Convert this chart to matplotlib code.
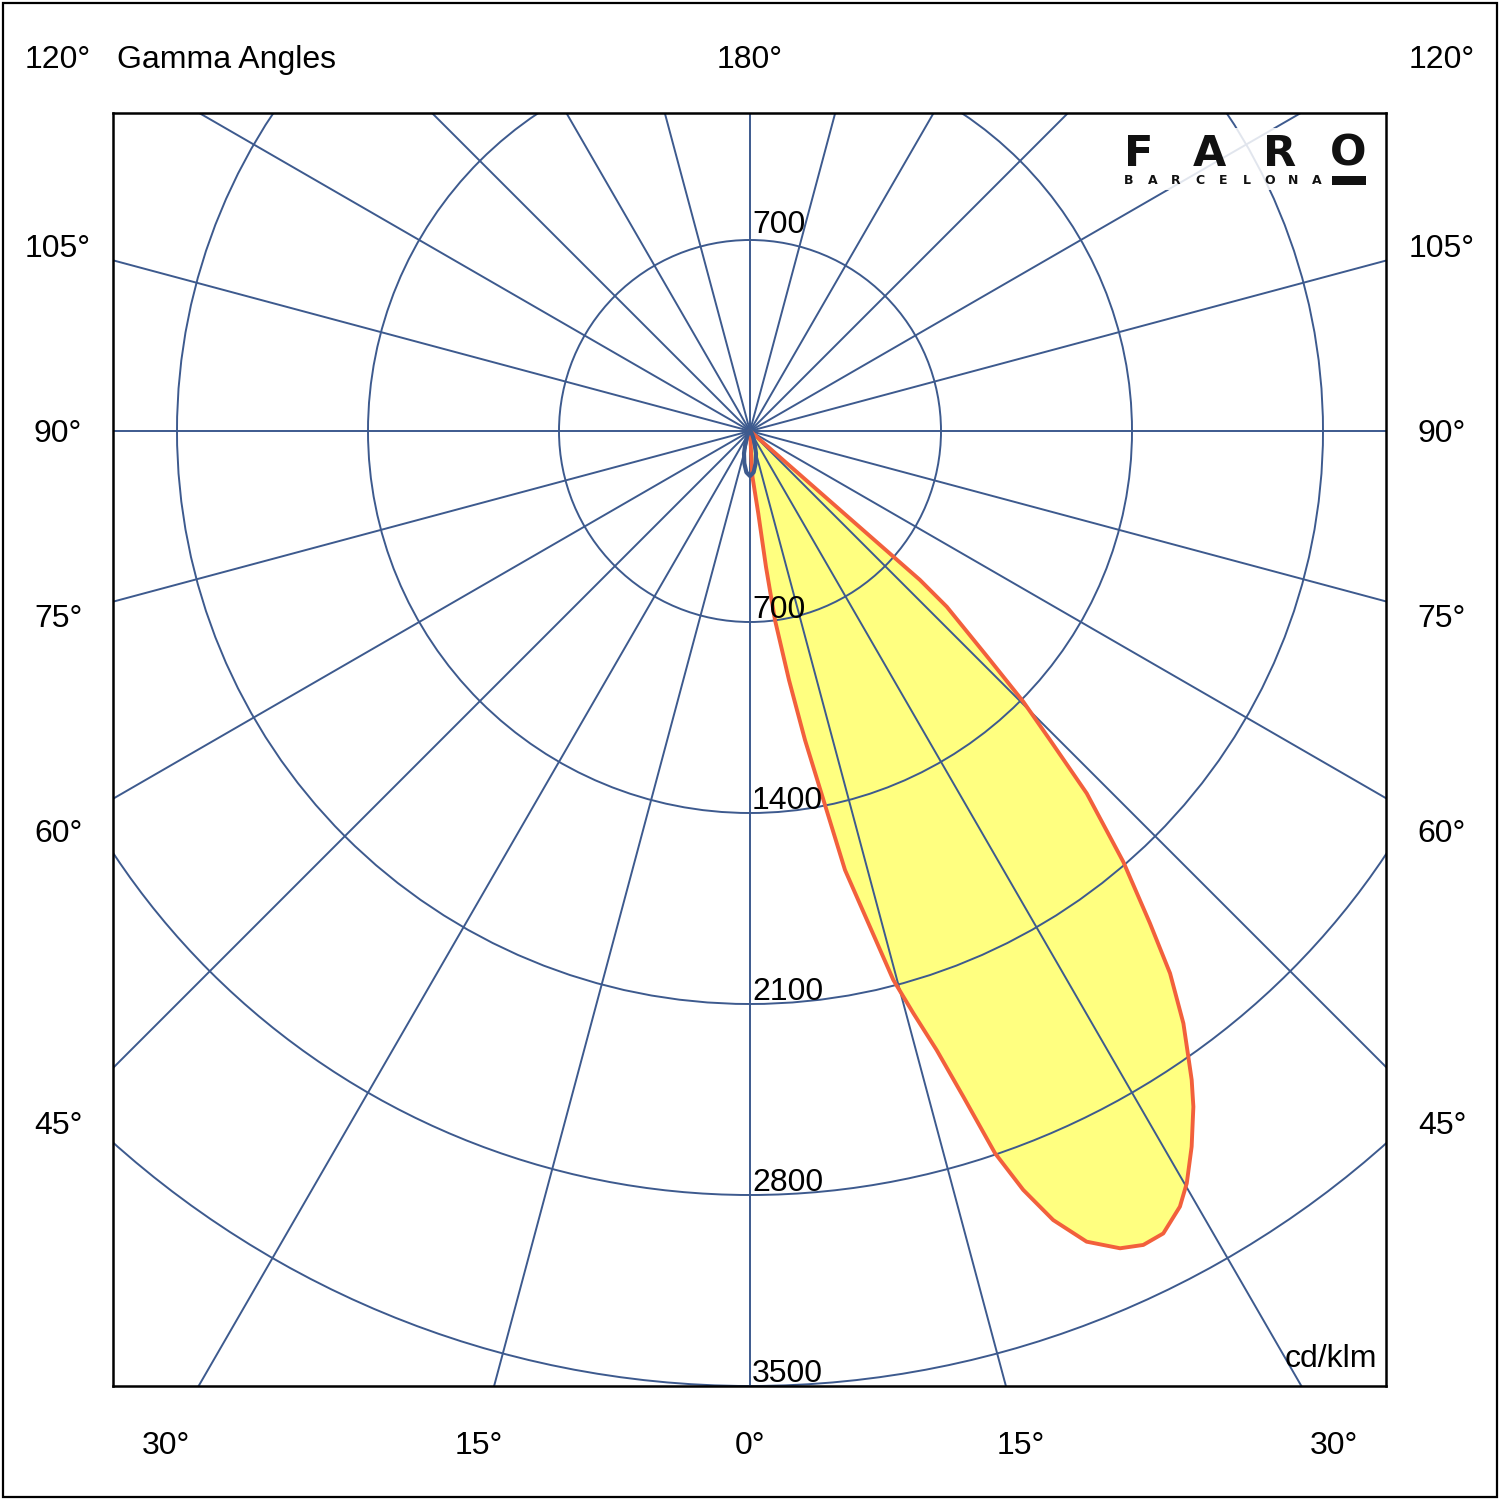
import numpy as np
import matplotlib.pyplot as plt
from matplotlib.patches import Rectangle, Circle

# gamma angle in degrees (0 = straight down, + = right side), intensity in cd/klm
gamma_c0 = [0, 2.96, 3.11, 5.74, 6.71, 7.53, 8.90, 10.09, 11.34, 12.21,
            14.63, 15.67, 16.78, 17.77, 18.74, 19.80, 21.02, 22.55, 24.36, 25.79,
            27.25, 29.00, 30.14, 31.68, 33.27, 34.24, 35.01, 36.19, 37.76, 39.09,
            40.91, 42.90, 44.16, 45.27, 46.34, 48.23, 48.77, 49.3]
cd_c0 = [0, 106, 169, 304, 502, 699, 924, 1150, 1398, 1646,
         2079, 2216, 2370, 2562, 2795, 2956, 3098, 3217, 3288, 3313,
         3308, 3250, 3188, 3082, 2962, 2877, 2800, 2690, 2514, 2325,
         2089, 1813, 1578, 1410, 1216, 967, 828, 0]

gamma_c90 = [-60, -50, -40, -30, -25, -20, -15, -10, -5, 0, 5, 10, 15, 20, 25, 30, 40, 50, 60]
cd_c90 = [0, 3, 8, 18, 30, 50, 85, 120, 152, 165, 152, 120, 85, 50, 30, 18, 8, 3, 0]

rings = [700, 1400, 2100, 2800, 3500]
spoke_angles = list(range(0, 360, 15))
side_angles = [120, 105, 90, 75, 60, 45]
bottom_angles = [-30, -15, 0, 15, 30]

grid_col = "#3d5a8e"
edge_col = "#f2603c"
fill_col = "#ffff80"
font = ["Liberation Sans", "DejaVu Sans"]

# pixel layout of the reference (1500 px figure)
cx, cy = 750, 431          # pole position in pixels
k = 955 / 3500             # pixels per cd/klm
W = 1500


def polar_xy(g, r):
    g = np.radians(np.asarray(g, dtype=float))
    r = np.asarray(r, dtype=float)
    return r * np.sin(g), -r * np.cos(g)


fig = plt.figure(figsize=(15, 15), dpi=100)
ax = fig.add_axes([113 / W, (W - 1386) / W, 1273 / W, 1273 / W])
ax.set_xlim((113 - cx) / k, (1386 - cx) / k)
ax.set_ylim(-(1386 - cy) / k, (cy - 113) / k)
ax.set_aspect("equal")
ax.set_xticks([])
ax.set_yticks([])
for s in ax.spines.values():
    s.set_linewidth(1.8)
    s.set_color("black")

# lobe fill under the grid
x0, y0 = polar_xy(gamma_c0, cd_c0)
ax.fill(x0, y0, color=fill_col, lw=0, zorder=1)

# grid
for r in rings:
    ax.add_patch(Circle((0, 0), r, fill=False, ec=grid_col, lw=1.4, zorder=2))
for a in spoke_angles:
    sx, sy = polar_xy(a, 6000)
    ax.plot([0, sx], [0, sy], color=grid_col, lw=1.4, zorder=2)

# curves
ax.plot(x0, y0, color=edge_col, lw=2.8, zorder=3, solid_joinstyle="round")
x1, y1 = polar_xy(gamma_c90, cd_c90)
ax.plot(x1, y1, color=grid_col, lw=3.0, zorder=4, solid_joinstyle="round")

# ring values
for r in rings:
    ax.text(7, -r + 15, str(r), fontsize=23, family=font, ha="left", va="baseline", zorder=5)
ax.text(7, rings[0] + 25, str(rings[0]), fontsize=23, family=font, ha="left", va="baseline", zorder=5)

ax.text((1377 - cx) / k, -(1367 - cy) / k, "cd/klm", fontsize=23, family=font,
        ha="right", va="baseline", zorder=5)

# angle labels round the frame
top_y = (cy - 60) / k
side_dx = 692 / k
shift = 3 / k
for g in side_angles:
    if g == 120:
        yy = top_y
    else:
        yy = -side_dx * np.cos(np.radians(g)) / np.sin(np.radians(g)) - shift
    for sgn in (-1, 1):
        ax.text(sgn * side_dx, yy, f"{g}°", fontsize=23, family=font,
                ha="center", va="center", clip_on=False)
bot_dy = (1443 - cy) / k
for g in bottom_angles:
    ax.text(bot_dy * np.tan(np.radians(g)), -bot_dy - shift, f"{abs(g)}°", fontsize=23,
            family=font, ha="center", va="center", clip_on=False)
ax.text(0, top_y, "180°", fontsize=23, family=font, ha="center", va="center", clip_on=False)
ax.text((117 - cx) / k, top_y, "Gamma Angles", fontsize=23, family=font,
        ha="left", va="center", clip_on=False)


# FARO logo
def fx(px):
    return px / W


def fy(py):
    return 1 - py / W


fig.patches.append(Rectangle((fx(1118), fy(190)), 258 / W, 62 / W, transform=fig.transFigure,
                             fc="white", ec="none", alpha=0.85, zorder=6))
for ch, px in zip("FARO", [1139, 1209, 1280, 1348]):
    fig.text(fx(px), fy(154), ch, fontsize=31, family="DejaVu Sans", weight="bold",
             ha="center", va="center", color="#111111", zorder=7)
for i, ch in enumerate("BARCELONA"):
    fig.text(fx(1129 + i * 23.5), fy(181), ch, fontsize=9, family="DejaVu Sans",
             weight="bold", ha="center", va="center", color="#111111", zorder=7)
fig.patches.append(Rectangle((fx(1332), fy(185)), 34 / W, 9 / W, transform=fig.transFigure,
                             fc="#111111", ec="none", zorder=7))

# outer border
fig.patches.append(Rectangle((fx(3), fy(1497)), 1494 / W, 1494 / W, transform=fig.transFigure,
                             fill=False, ec="black", lw=1.6))

fig.savefig("out.png", dpi=100, facecolor="white")
